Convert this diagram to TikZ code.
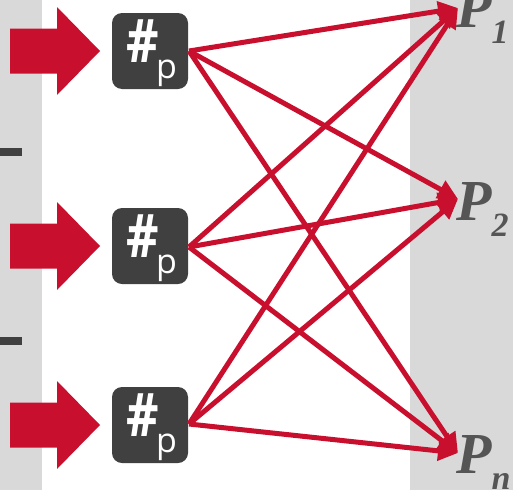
\documentclass[tikz,border=0pt]{standalone}
\usepackage{fontspec}
\usetikzlibrary{arrows.meta}
\newfontfamily\labelfont{Liberation Serif}
\newfontfamily\hashfont{Open Sans}
\definecolor{crimson}{RGB}{200,16,46}
\definecolor{boxgray}{RGB}{64,64,64}
\definecolor{panelgray}{RGB}{217,217,217}
\definecolor{textgray}{RGB}{85,85,85}
\tikzset{
  hashbox/.style={draw=none, fill=boxgray, rounded corners=10pt,
    minimum width=76pt, minimum height=76pt, inner sep=0pt, text=white},
  hashtext/.style={anchor=base west, inner sep=0pt, text=white},
  feed/.style={fill=crimson, draw=none},
  link/.style={draw=crimson, line width=5pt,
    -{Triangle[length=20pt,width=19pt]}, shorten >=0pt},
  plabel/.style={anchor=base west, inner sep=0pt, text=textgray,
    font=\labelfont\bfseries\itshape\fontsize{58}{58}\selectfont},
  tick/.style={fill=boxgray, draw=none}
}
\newcommand{\hashsign}{\scalebox{0.84}[1]{\hashfont\bfseries\fontsize{60}{60}\selectfont\#}}
\newcommand{\subp}{{\hashfont\fontsize{34}{34}\selectfont p}}
\newcommand{\psub}[1]{P\raisebox{-16pt}{\fontsize{34}{34}\selectfont #1}}
\begin{document}
\begin{tikzpicture}[x=1pt,y=-1pt]
  \useasboundingbox (0,0) rectangle (513,490);
  % side panels
  \fill[panelgray] (0,0) rectangle (42,490);
  \fill[panelgray] (410,0) rectangle (513,490);
  % separators on the left panel
  \fill[tick] (0,148) rectangle (22,156);
  \fill[tick] (0,337) rectangle (22,345);
  % incoming block arrows
  \foreach \yc in {51,246,425} {
    \fill[feed] (10,\yc-22.5) -- (57,\yc-22.5) -- (57,\yc-44) -- (100,\yc)
      -- (57,\yc+44) -- (57,\yc+22.5) -- (10,\yc+22.5) -- cycle;
  }
  % hash boxes
  \node[hashbox] (b1) at (150,51) {};
  \node[hashbox] (b2) at (150,246) {};
  \node[hashbox] (b3) at (150,425) {};
  \foreach \b in {b1,b2,b3} {
    \node[hashtext] (\b h) at ([xshift=-24pt,yshift=-11pt]\b.center) {\hashsign};
    \node[hashtext] (\b p) at ([xshift=6pt,yshift=-27pt]\b.center) {\subp};
  }
  % line origins on the boxes' right sides
  \coordinate (o1) at (189,51);
  \coordinate (o2) at (189,247);
  \coordinate (o3) at (189,424);
  % targets
  \coordinate (t1) at (458,8);
  \coordinate (t2) at (458,199);
  \coordinate (t3) at (458,453);
  \node[plabel] (p1) at (456,27) {\psub{1}};
  \node[plabel] (p2) at (456,220) {\psub{2}};
  \node[plabel] (p3) at (456,473) {\psub{n}};
  % connections
  \foreach \s in {o1,o2,o3} {
    \foreach \t in {t1,t2,t3} {
      \draw[link] (\s) -- (\t);
    }
  }
\end{tikzpicture}
\end{document}
